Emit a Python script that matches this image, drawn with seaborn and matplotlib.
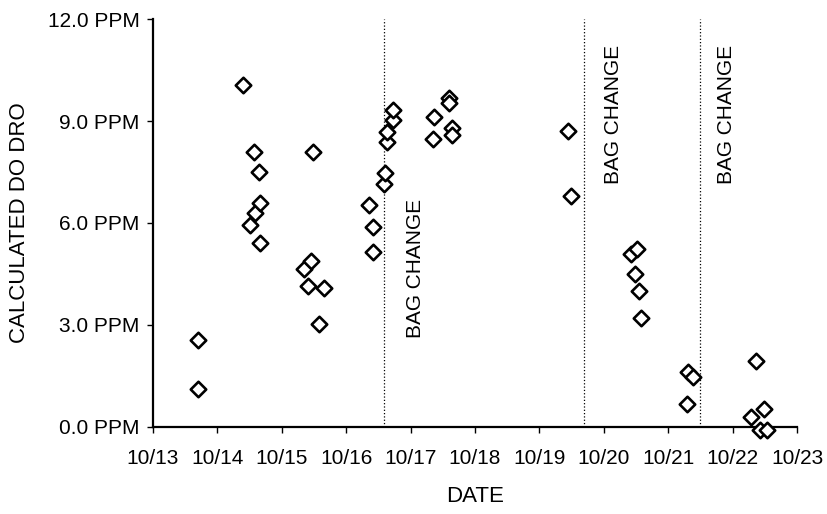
import pandas as pd
import seaborn as sns
import matplotlib.pyplot as plt

# data (x = day of October, y = PPM)
day = [13.70, 13.70, 14.40, 14.57, 14.65, 14.51, 14.59, 14.66, 14.66,
       15.34, 15.46, 15.40, 15.66, 15.58, 15.49,
       16.35, 16.41, 16.41, 16.58, 16.60, 16.63, 16.64, 16.72, 16.72,
       17.37, 17.35, 17.59, 17.59, 17.64, 17.64,
       19.44, 19.49,
       20.42, 20.52, 20.48, 20.54, 20.57,
       21.31, 21.38, 21.29,
       22.37, 22.29, 22.49, 22.43, 22.54]
ppm = [2.56, 1.12, 10.05, 8.10, 7.50, 5.95, 6.30, 6.60, 5.41,
       4.64, 4.87, 4.16, 4.10, 3.03, 8.10,
       6.53, 5.88, 5.16, 7.15, 7.48, 8.38, 8.68, 9.04, 9.33,
       9.13, 8.48, 9.68, 9.53, 8.79, 8.60,
       8.72, 6.78,
       5.09, 5.23, 4.50, 4.00, 3.22,
       1.63, 1.48, 0.67,
       1.95, 0.28, 0.52, -0.09, -0.09]

# bag change lines and their note positions
bag_change = [16.58, 19.69, 21.49]
bag_text_x = [17.07, 20.15, 21.91]
bag_text_y = [4.65, 9.2, 9.2]

x_ticks = list(range(13, 24))
x_labels = ['10/13', '10/14', '10/15', '10/16', '10/17', '10/18',
            '10/19', '10/20', '10/21', '10/22', '10/23']
y_ticks = [0, 3, 6, 9, 12]
y_labels = ['0.0 PPM', '3.0 PPM', '6.0 PPM', '9.0 PPM', '12.0 PPM']

df = pd.DataFrame({'day': day, 'ppm': ppm})

sns.set_style('ticks')
plt.rcParams['font.family'] = ['Liberation Sans', 'DejaVu Sans']
plt.rcParams['text.color'] = 'black'
plt.rcParams['axes.labelcolor'] = 'black'

fig = plt.figure(figsize=(8.28, 5.14), dpi=100)
ax = fig.add_axes([0.1848, 0.1693, 0.7778, 0.7937])

sns.scatterplot(data=df, x='day', y='ppm', marker='D', s=62,
                facecolor='white', edgecolor='black', linewidth=1.9,
                clip_on=False, zorder=3, ax=ax)

for xv, tx, ty in zip(bag_change, bag_text_x, bag_text_y):
    ax.axvline(xv, color='black', linestyle=':', linewidth=0.9, zorder=1)
    ax.text(tx, ty, 'BAG CHANGE', rotation=90, fontsize=15,
            ha='center', va='center', color='black')

ax.set_xlim(13, 23)
ax.set_ylim(0, 12)
ax.set_xticks(x_ticks)
ax.set_xticklabels(x_labels, fontsize=15)
ax.set_yticks(y_ticks)
ax.set_yticklabels(y_labels, fontsize=15)
ax.set_xlabel('DATE', fontsize=16, labelpad=13)
ax.set_ylabel('CALCULATED DO DRO', fontsize=16, labelpad=13)
ax.tick_params(direction='out', length=4.5, width=1, colors='black')
ax.tick_params(axis='x', pad=11)
ax.tick_params(axis='y', pad=5)
for side in ['left', 'bottom']:
    ax.spines[side].set_linewidth(1.6)
    ax.spines[side].set_color('black')
sns.despine(ax=ax)

plt.savefig('out.png', dpi=100)
